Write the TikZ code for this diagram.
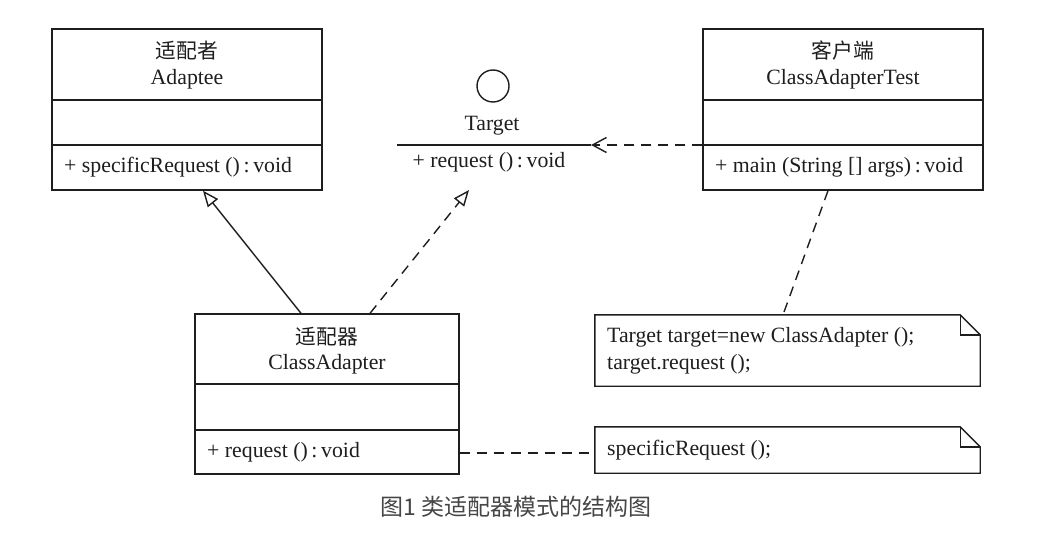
\documentclass[tikz,border=0pt]{standalone}
\usepackage{fontspec}
\setmainfont{Liberation Serif}
\newfontfamily\cjk{Noto Sans CJK SC}
\usetikzlibrary{arrows.meta}
\definecolor{ink}{RGB}{30,30,30}
\definecolor{capgray}{RGB}{70,70,70}
\tikzset{
  umlbox/.style={draw=ink, line width=1.4pt, rectangle, inner sep=0pt},
  notebox/.style={rectangle, inner sep=0pt},
  txt/.style={font=\fontsize{21.8}{26}\selectfont, text=ink, inner sep=0pt},
  cn/.style={font=\cjk\fontsize{20.8}{24}\selectfont, text=ink, inner sep=0pt},
  ltxt/.style={txt, anchor=west},
  outline/.style={draw=ink, line width=1.4pt},
  dashline/.style={draw=ink, line width=1.4pt, dash pattern=on 10pt off 7pt},
  gen/.style={draw=ink, line width=1.4pt, -{Triangle[open, length=16pt, width=13pt, line width=1.4pt]}},
  realize/.style={dashline, -{Triangle[open, length=16pt, width=13pt, line width=1.4pt]}},
  dep/.style={dashline, -{Straight Barb[length=14pt, width=15pt, line width=1.4pt]}},
}
\begin{document}
\begin{tikzpicture}[x=1pt,y=-1pt]
\useasboundingbox (0,0) rectangle (1059,545);
\fill[white] (0,0) rectangle (1059,545);

% Adaptee
\node[umlbox, minimum width=270pt, minimum height=161pt] (adaptee) at (187,109.5) {};
\draw[outline] (adaptee.west |- 0,100) -- (adaptee.east |- 0,100);
\draw[outline] (adaptee.west |- 0,145) -- (adaptee.east |- 0,145);
\node[cn] (adapteeCn) at (187,51) {适配者};
\node[txt] (adapteeName) at (187,79) {Adaptee};
\node[ltxt] (adapteeOp) at (64,167) {+ specificRequest ()\,:\,void};

% Client
\node[umlbox, minimum width=280pt, minimum height=161pt] (client) at (843,109.5) {};
\draw[outline] (client.west |- 0,100) -- (client.east |- 0,100);
\draw[outline] (client.west |- 0,145) -- (client.east |- 0,145);
\node[cn] (clientCn) at (843,51) {客户端};
\node[txt] (clientName) at (843,79) {ClassAdapterTest};
\node[ltxt] (clientOp) at (715,167) {+ main (String [] args)\,:\,void};

% ClassAdapter
\node[umlbox, minimum width=264pt, minimum height=160pt] (adapter) at (327,394) {};
\draw[outline] (adapter.west |- 0,384) -- (adapter.east |- 0,384);
\draw[outline] (adapter.west |- 0,430) -- (adapter.east |- 0,430);
\node[cn] (adapterCn) at (327,337) {适配器};
\node[txt] (adapterName) at (327,364) {ClassAdapter};
\node[ltxt] (adapterOp) at (207,452) {+ request ()\,:\,void};

% Target interface
\node[draw=ink, line width=1.4pt, circle, minimum size=32pt, inner sep=0pt] (tcirc) at (493,86) {};
\node[txt] (tname) at (492,126) {Target};
\coordinate (tL) at (397,145);
\coordinate (tR) at (591,145);
\draw[outline] (tL) -- (tR);
\node[txt] (tOp) at (489,162) {+ request ()\,:\,void};
\coordinate (tBot) at (469,190);

% Notes
\node[notebox, minimum width=385pt, minimum height=71pt] (note1) at (787.5,350.5) {};
\draw[outline] (note1.north west) -- ([xshift=-20pt]note1.north east) -- ([yshift=-20pt]note1.north east) -- (note1.south east) -- (note1.south west) -- cycle;
\draw[outline] ([xshift=-20pt]note1.north east) -- ([xshift=-20pt,yshift=-20pt]note1.north east) -- ([yshift=-20pt]note1.north east);
\node[ltxt] (note1a) at (607,337) {Target target=new ClassAdapter ();};
\node[ltxt] (note1b) at (607,364) {target.request ();};

\node[notebox, minimum width=385pt, minimum height=46pt] (note2) at (787.5,450) {};
\draw[outline] (note2.north west) -- ([xshift=-20pt]note2.north east) -- ([yshift=-20pt]note2.north east) -- (note2.south east) -- (note2.south west) -- cycle;
\draw[outline] ([xshift=-20pt]note2.north east) -- ([xshift=-20pt,yshift=-20pt]note2.north east) -- ([yshift=-20pt]note2.north east);
\node[ltxt] (note2a) at (607,450) {specificRequest ();};

% Connectors
\draw[gen] (adapter.north -| 301,0) -- (adaptee.south -| 203,0);
\draw[realize] (adapter.north -| 370,0) -- (tBot);
\draw[dep] (client.west |- 0,145) -- (tR);
\draw[dashline] (client.south -| 828,0) -- (note1.north -| 783,0);
\draw[dashline] (adapter.east |- 0,453) -- (note2.west |- 0,453);

% Caption
\node[font=\cjk\fontsize{23}{26}\selectfont, text=capgray, inner sep=0pt] (caption) at (516,507) {图1 类适配器模式的结构图};
\end{tikzpicture}
\end{document}
